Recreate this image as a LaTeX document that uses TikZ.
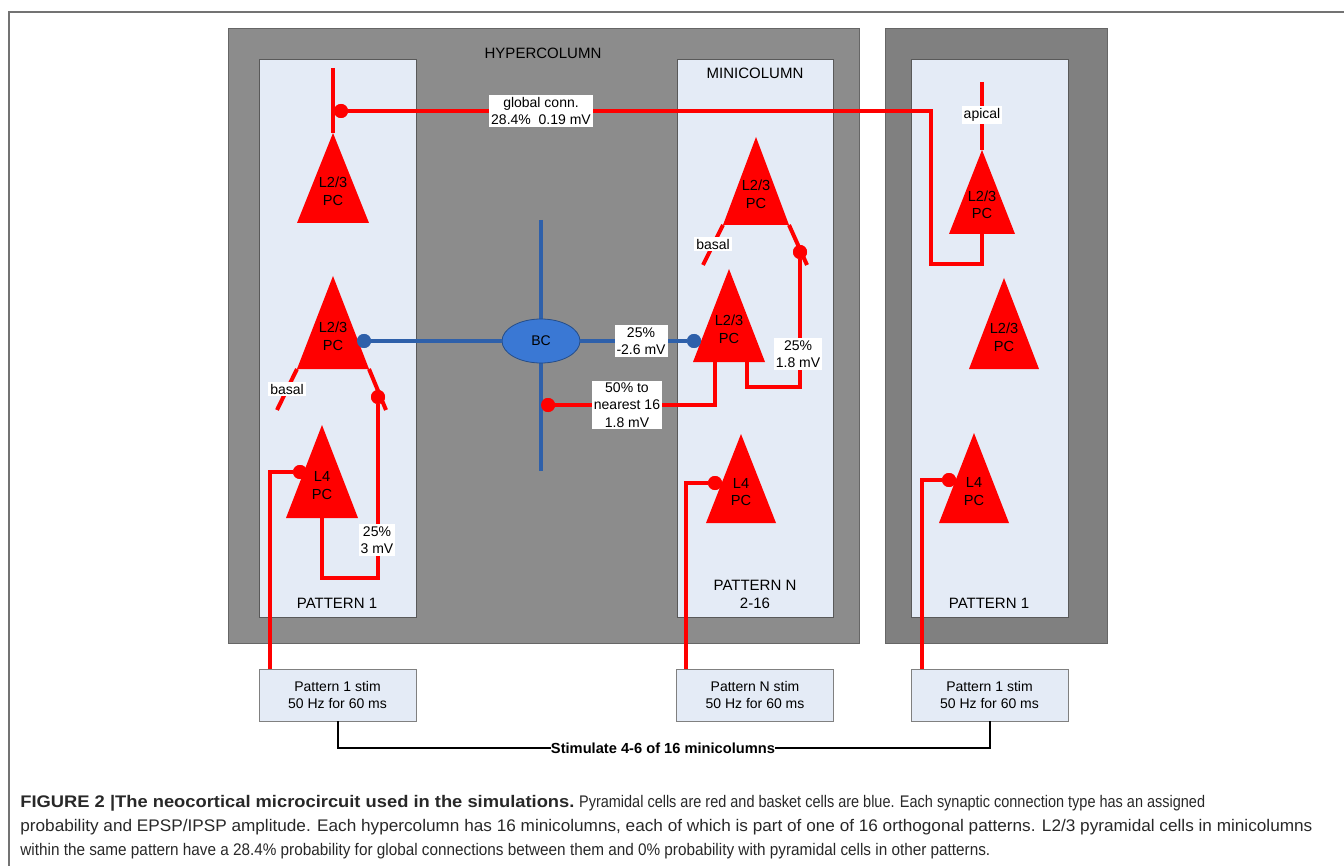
\documentclass[tikz,border=0pt]{standalone}
\usepackage{fontspec}
\setmainfont{Liberation Sans}
\usepackage{graphicx}
\usetikzlibrary{shapes.geometric,calc}

\definecolor{minifill}{RGB}{228,235,246}
\definecolor{bcline}{RGB}{46,96,170}
\definecolor{bcfill}{RGB}{58,120,212}
\definecolor{capgray}{RGB}{40,40,40}

% pyramidal cell: name, apex x, apex y, half base, height, text
\newcommand{\pyramid}[6]{%
  \fill[pyr] (#2,#3) coordinate (#1-a) -- ++(-#4,#5) coordinate (#1-l)
        -- ++({2*#4},0) coordinate (#1-r) -- cycle;
  \node[pclbl] (#1) at (#2,{#3+0.65*#5}) {#6};
}

\begin{document}
\begin{tikzpicture}[
  x=0.5pt,y=-0.5pt,
  font=\fontsize{7}{8.6}\selectfont,
  hyper/.style={draw=black!60,fill=black!45,inner sep=0pt},
  mini/.style={draw=black!65,fill=minifill,inner sep=0pt},
  stimbox/.style={draw=black!50,fill=minifill,align=center,inner sep=0pt,
                  minimum width=78.5pt,minimum height=26pt},
  pyr/.style={fill=red},
  pclbl/.style={align=center,inner sep=0pt,font=\fontsize{7.3}{8.8}\selectfont},
  lbl/.style={fill=white,inner sep=1pt,align=center},
  title/.style={font=\fontsize{7.5}{9}\selectfont,align=center,inner sep=0pt},
  exc/.style={draw=red,line width=2pt},
  inh/.style={draw=bcline,line width=2pt},
  esyn/.style={circle,fill=red,inner sep=0pt,minimum size=7pt},
  isyn/.style={circle,fill=bcline,inner sep=0pt,minimum size=7pt},
  basket/.style={ellipse,draw=bcline!80!black,fill=bcfill,inner sep=0pt,
                 minimum width=39pt,minimum height=22pt},
  stimline/.style={draw=black,line width=1pt},
  caption/.style={anchor=base west,inner sep=0pt,text=capgray,
                  font=\fontsize{8.4}{10}\selectfont},
]
\useasboundingbox (0,0) rectangle (1344,866);

% ---- figure frame ----
\draw[black!55,line width=0.8pt] (9,866) -- (9,12) -- (1344,12);

% ---- hypercolumns and minicolumns ----
\node[hyper,minimum width=315.5pt,minimum height=307.5pt] (hc) at (543.5,335.5) {};
\node[hyper,fill=black!50,minimum width=111pt,minimum height=307.5pt] (hc2) at (996,335.5) {};
\node[mini,minimum width=78.5pt,minimum height=279pt] (mc1) at (337.5,338) {};
\node[mini,minimum width=78pt,minimum height=279pt] (mc2) at (755,338) {};
\node[mini,minimum width=78.5pt,minimum height=279pt] (mc3) at (989.5,338) {};

\node[title] (hclbl) at (543,53) {HYPERCOLUMN};
\node[title] (mclbl) at (755,73) {MINICOLUMN};
\node[title] (pat1) at (337,603) {PATTERN 1};
\node[title] (patn) at (755,594) {PATTERN N\\2-16};
\node[title] (pat3) at (989,603) {PATTERN 1};

% ---- stimulus boxes ----
\node[stimbox] (stim1) at (337.5,695) {Pattern 1 stim\\50 Hz for 60 ms};
\node[stimbox] (stim2) at (755,695) {Pattern N stim\\50 Hz for 60 ms};
\node[stimbox] (stim3) at (989.5,695) {Pattern 1 stim\\50 Hz for 60 ms};

\node[inner sep=0pt,font=\fontsize{7.3}{8.4}\selectfont\bfseries] (stimlbl) at (663,748)
     {\resizebox{112pt}{\height}{Stimulate 4-6 of 16 minicolumns}};
\draw[stimline] (stim1.south) |- (stimlbl.west);
\draw[stimline] (stim3.south) |- (stimlbl.east);

% ---- free ends and bends ----
\coordinate (apa) at (333,68);
\coordinate (apg) at (982,82);
\coordinate (gturn) at (931,264);
\coordinate (bctop) at (541,220);
\coordinate (bcbot) at (541,471);
\coordinate (bendb) at (378,578);
\coordinate (bendd) at (800,387);

% synapses
\node[esyn] (g1) at (341,111) {};
\node[esyn] (r1) at (378,397) {};
\node[esyn] (r2) at (548,405) {};
\node[esyn] (r3) at (800,252) {};
\node[esyn] (s1) at (300,472) {};
\node[esyn] (s2) at (715,483) {};
\node[esyn] (s3) at (949,480) {};
\node[isyn] (b1) at (364,341) {};
\node[isyn] (b2) at (694,341) {};

% ---- basket cell ----
\draw[inh] (bctop) -- (bcbot);
\node[basket] (bc) at (541,341) {BC};
\draw[inh] (b1) -- (bc.west);
\draw[inh] (bc.east) -- (b2);

% ---- pyramidal cells ----
\pyramid{l23a}{333}{133}{36}{90}{L2/3\\PC}
\pyramid{l23b}{333}{276}{36}{93}{L2/3\\PC}
\pyramid{l4a}{322}{425}{36}{93}{L4\\PC}
\pyramid{l23c}{756}{137}{33}{88}{L2/3\\PC}
\pyramid{l23d}{729}{269}{36}{93}{L2/3\\PC}
\pyramid{l4b}{741}{434}{35}{89}{L4\\PC}
\pyramid{l23e}{982}{150}{33}{84}{L2/3\\PC}
\pyramid{l23f}{1004}{278}{35}{91}{L2/3\\PC}
\pyramid{l4c}{974}{433}{35}{90}{L4\\PC}

% dendrites
\draw[exc] (apa) -- (l23a-a);
\draw[exc] (apg) -- (l23e-a);
\draw[exc] (l23b-l) -- ++(-20,41);
\draw[exc] (l23b-r) -- ++(17,41);
\draw[exc] (l23c-l) -- ++(-20,40);
\draw[exc] (l23c-r) -- ++(18,40);

% global connection, L2/3 to L2/3 of the same pattern
\draw[exc] (l23e-a |- l23e-l) |- (gturn) |- (g1);

% L4 -> L2/3 within a minicolumn
\draw[exc] (l4a-a |- l4a-l) |- (bendb) -- (r1);

% L2/3 -> L2/3 local, and L2/3 -> BC
\draw[exc] ($(l23d-l)+(54,0)$) |- (bendd) -- (r3);
\draw[exc] ($(l23d-l)+(22,0)$) |- (r2);

% stimulus inputs
\draw[exc] ($(stim1.north west)+(11,0)$) |- (s1);
\draw[exc] ($(stim2.north west)+(10,0)$) |- (s2);
\draw[exc] ($(stim3.north west)+(11,0)$) |- (s3);

% redraw synapses on top
\foreach \s in {g1,r1,r2,r3,s1,s2,s3} \fill[red] (\s) circle (3.5pt);
\foreach \s in {b1,b2} \fill[bcline] (\s) circle (3.5pt);

% ---- labels ----
\node[lbl] (glbl) at (541,111) {global conn.\\28.4\%\ \ 0.19 mV};
\node[lbl] (aplbl) at (982,115) {apical};
\node[lbl] (bsl1) at (287,389) {basal};
\node[lbl] (bsl2) at (713,244) {basal};
\node[lbl] (w1) at (377,540) {25\%\\3 mV};
\node[lbl] (w2) at (641,341) {25\%\\-2.6 mV};
\node[lbl] (w3) at (627,405) {50\% to\\nearest 16\\1.8 mV};
\node[lbl] (w4) at (798,354) {25\%\\1.8 mV};

% ---- caption ----
\node[caption] (cap1) at (20,807) {\resizebox{277pt}{\height}{\textbf{FIGURE 2 |The neocortical microcircuit used in the simulations.}}\ \resizebox{313pt}{\height}{Pyramidal cells are red and basket cells are blue. Each synaptic connection type has an assigned}};
\node[caption] (cap2) at (20,831) {\resizebox{646pt}{\height}{probability and EPSP/IPSP amplitude. Each hypercolumn has 16 minicolumns, each of which is part of one of 16 orthogonal patterns. L2/3 pyramidal cells in minicolumns}};
\node[caption] (cap3) at (20,855) {\resizebox{485pt}{\height}{within the same pattern have a 28.4\% probability for global connections between them and 0\% probability with pyramidal cells in other patterns.}};

\end{tikzpicture}
\end{document}
